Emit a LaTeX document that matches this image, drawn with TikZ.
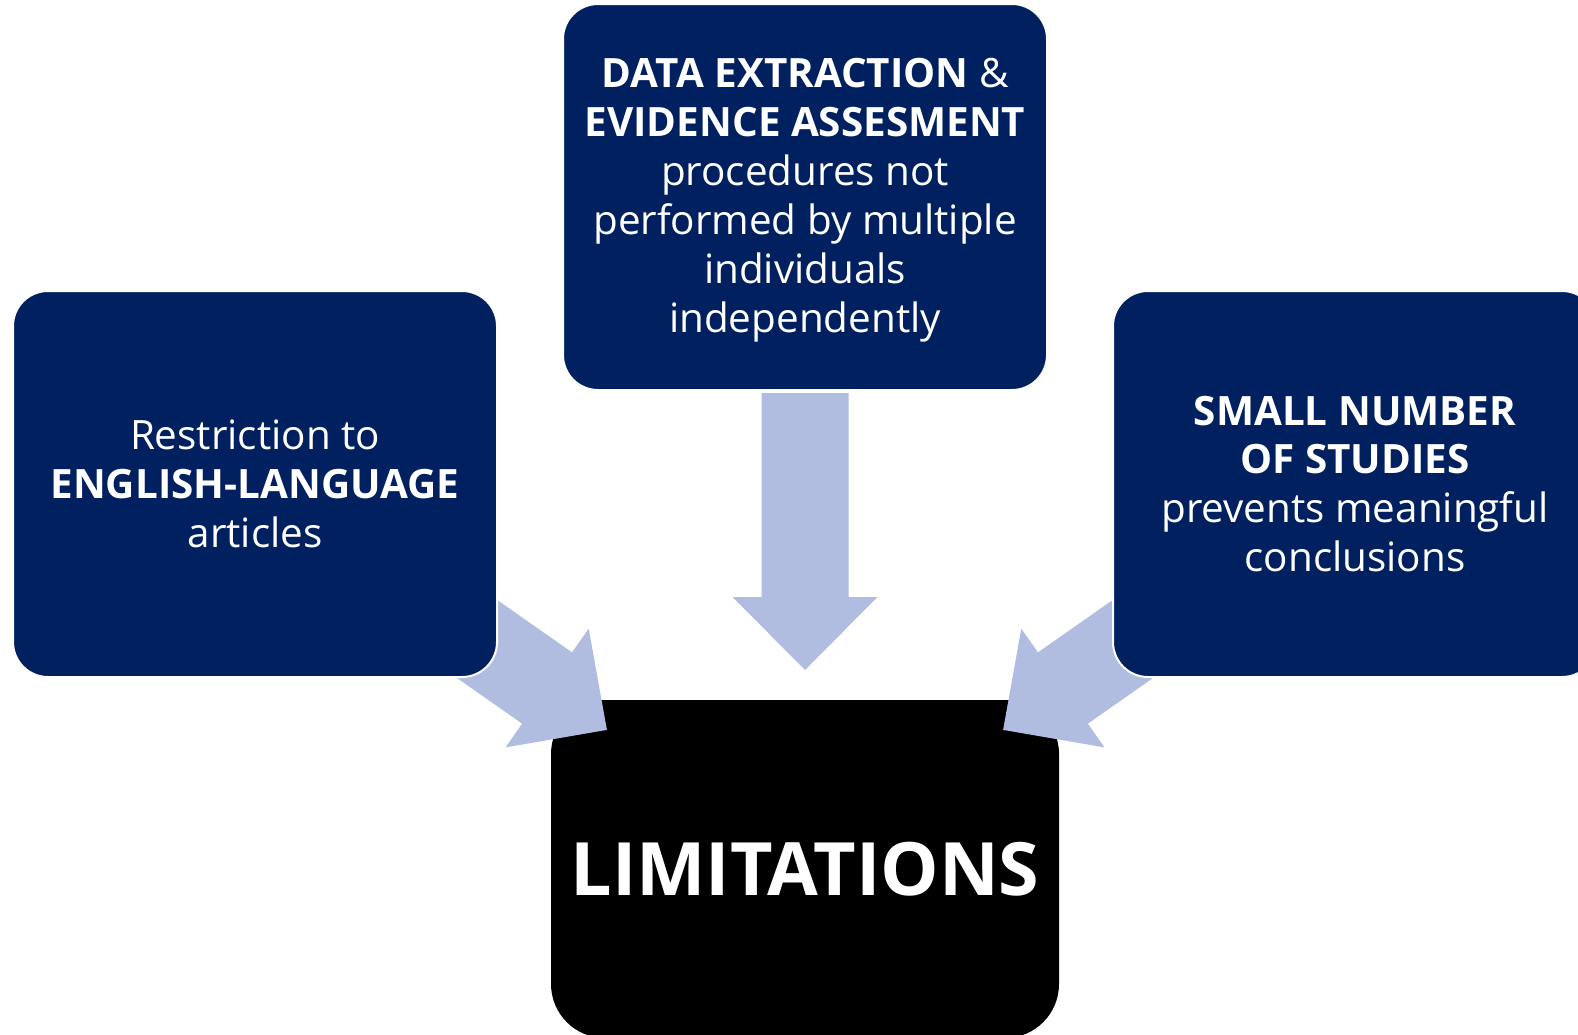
\documentclass[tikz,border=0pt]{standalone}
\usepackage{fontspec}
\setmainfont{Open Sans}
\definecolor{navy}{RGB}{0,32,96}
\definecolor{arrowblue}{RGB}{176,189,224}
\tikzset{
  srcbox/.style={rectangle, fill=navy, draw=white, line width=1pt, rounded corners=17.5pt,
    minimum width=242pt, minimum height=193pt, inner sep=0pt, align=center, text=white,
    font=\fontsize{20.2}{24.45}\selectfont},
  limbox/.style={rectangle, fill=black, rounded corners=27pt,
    minimum width=254pt, minimum height=169pt, inner sep=0pt, text=white,
    font=\fontsize{36.8}{45}\selectfont\bfseries},
  blockarrow/.pic={\fill[arrowblue] (0,-43.5) -- (204,-43.5) -- (204,-72.5) -- (277,0) -- (204,72.5) -- (204,43.5) -- (0,43.5) -- cycle;}
}
\begin{document}
\begin{tikzpicture}[x=0.5pt,y=-0.5pt]
\useasboundingbox (0,0) rectangle (1578,1034);
\clip (0,0) rectangle (1578,1034);
% target box
\node[limbox] (lim) at (805,869) {LIMITATIONS};
% arrow start points
\coordinate (la) at (380,571);
\coordinate (ra) at (1230,571);
\coordinate (ma) at (805,393);
\pic[rotate=-35] at (la) {blockarrow};
\pic[rotate=-145] at (ra) {blockarrow};
\pic[rotate=-90] at (ma) {blockarrow};
% source boxes
\node[srcbox, text depth=1.8pt] (top) at (805,197) {\textbf{DATA EXTRACTION} \&\\\textbf{EVIDENCE ASSESMENT}\\procedures not\\performed by multiple\\individuals\\independently};
\node[srcbox] (left) at (255,484) {Restriction to\\\textbf{ENGLISH-LANGUAGE}\\articles};
\node[srcbox] (right) at (1355,484) {\textbf{SMALL NUMBER}\\\textbf{OF STUDIES}\\prevents meaningful\\conclusions};
\end{tikzpicture}
\end{document}
